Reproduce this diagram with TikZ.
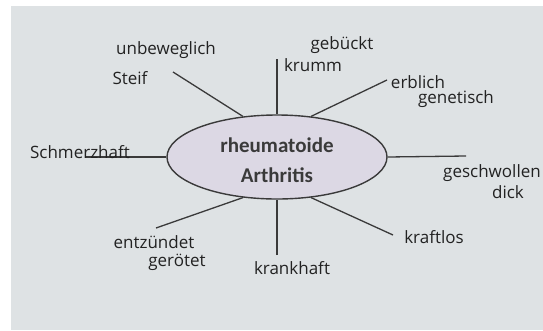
\documentclass[tikz,border=0pt]{standalone}
\usepackage{fontspec}
\usetikzlibrary{shapes.geometric}
\setmainfont{Open Sans}
\newfontfamily\centerfont{Carlito}
\definecolor{bg}{HTML}{DEE2E4}
\definecolor{ellfill}{HTML}{DCD8E4}
\definecolor{ink}{HTML}{3A3A3A}
\definecolor{pen}{HTML}{222222}
\begin{document}
\begin{tikzpicture}[x=1pt,y=-1pt,
  spoke/.style={draw=ink,line width=1.3pt},
  hand/.style={text=pen,inner sep=0pt,anchor=center,font=\fontsize{17}{17}\selectfont}]
\useasboundingbox (0,0) rectangle (543,330);
\fill[white] (0,0) rectangle (543,330);
\fill[bg] (11,6) rectangle (543,330);
\node[ellipse,draw=ink,line width=1.4pt,fill=ellfill,minimum width=220pt,minimum height=84pt,inner sep=0pt] (c) at (277,157) {};
\node[text=ink,font=\centerfont\bfseries\fontsize{21}{30}\selectfont,align=center] (ct) at (277,160) {rheumatoide\\Arthritis};
% free ends
\coordinate (eUL) at (173,72);
\coordinate (eT) at (277,59);
\coordinate (eUR) at (387,80);
\coordinate (eL) at (85,157);
\coordinate (eR) at (466,156);
\coordinate (eLR) at (393,235);
\coordinate (eB) at (277,255);
\coordinate (eLL) at (156,228);
\draw[spoke] (eUL) -- (c.130);
\draw[spoke] (eT) -- (c.north);
\draw[spoke] (eUR) -- (c.50);
\draw[spoke] (eL) -- (c.west);
\draw[spoke] (eR) -- (c.east);
\draw[spoke] (eLR) -- (c.-50);
\draw[spoke] (eB) -- (c.south);
\draw[spoke] (eLL) -- (c.-130);
% labels
\node[hand] (l1) at (166,50) {unbeweglich};
\node[hand] (l2) at (130,78) {Steif};
\node[hand] (l3) at (342,45) {gebückt};
\node[hand] (l4) at (313,65) {krumm};
\node[hand] (l5) at (418,82) {erblich};
\node[hand] (l6) at (456,99) {genetisch};
\node[hand] (l7) at (80,152) {Schmerzhaft};
\node[hand] (l8) at (492,173) {geschwollen};
\node[hand] (l9) at (508,192) {dick};
\node[hand] (l10) at (434,237) {kraftlos};
\node[hand] (l11) at (154,242) {entzündet};
\node[hand] (l12) at (177,262) {gerötet};
\node[hand] (l13) at (292,268) {krankhaft};
\end{tikzpicture}
\end{document}
